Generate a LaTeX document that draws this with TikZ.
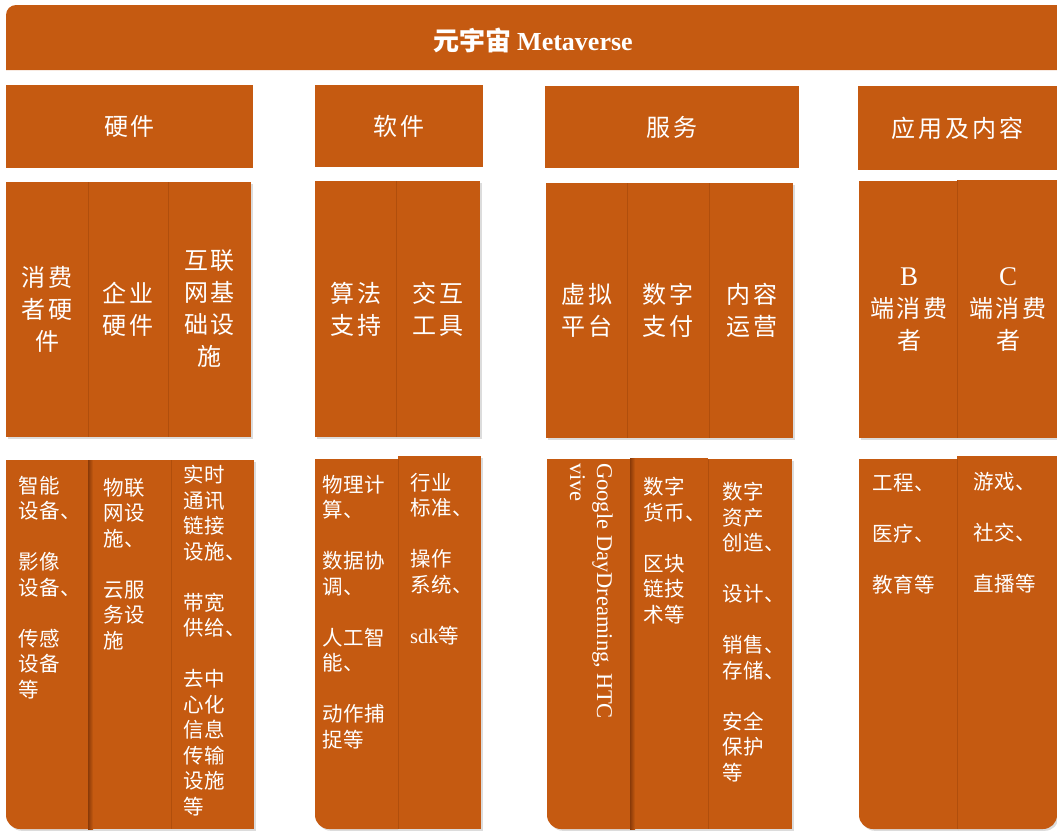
\documentclass[tikz,border=0pt]{standalone}
\usepackage{fontspec}
\setmainfont{Noto Sans CJK SC}
\newfontfamily\lat{Liberation Serif}
\newfontfamily\cjksp[LetterSpace=12]{Noto Sans CJK SC}
\newfontfamily\cjklow[LetterSpace=4]{Noto Sans CJK SC}
\usetikzlibrary{shadows}
\definecolor{org}{HTML}{C55A11}
\definecolor{orgline}{HTML}{B04E0C}
\definecolor{orgdark}{HTML}{8A3A08}
\begin{document}
\begin{tikzpicture}[x=1pt,y=-1pt,
  box/.style={fill=org, draw=none, inner sep=0pt, outer sep=0pt},
  shd/.style={drop shadow={shadow xshift=1.8pt, shadow yshift=-1.8pt, opacity=0.28}},
  sepline/.style={draw=orgline, line width=0.8pt},
  hdtext/.style={text=white, font=\cjksp\fontsize{24}{30}\selectfont},
  midtext/.style={text=white, align=center, inner sep=0pt, font=\cjksp\fontsize{24}{32}\selectfont},
  lowtext/.style={text=white, align=left, anchor=north west, inner sep=0pt, font=\cjklow\fontsize{20.5}{25.5}\selectfont},
  rottext/.style={text=white, align=left, anchor=north west, inner sep=0pt, rotate=-90, font=\lat\fontsize{22.5}{27}\selectfont},
]
\useasboundingbox (0,0) rectangle (1057,830);

% ---------- banner ----------
\fill[org] (1057,70) -- (6,70) -- (6,15) .. controls (6,9.48) and (10.48,5) .. (16,5) -- (1057,5) -- cycle;
\node[text=white, font=\bfseries\fontsize{26}{30}\selectfont] (meta) at (533,40) {元宇宙 {\lat\bfseries Metaverse}};

% ---------- headers ----------
\node[box, hdtext, minimum width=247, minimum height=83] (hw) at (129.5,126.5) {硬件};
\node[box, hdtext, minimum width=168, minimum height=82] (sw) at (399,126) {软件};
\node[box, hdtext, minimum width=254, minimum height=82] (sv) at (672,127) {服务};
\node[box, hdtext, minimum width=199, minimum height=84] (ap) at (957.5,128) {应用及内容};

% ---------- second row ----------
\fill[org, shd] (6,182) rectangle (251,437);
\draw[sepline] (88,182) -- (88,437);
\draw[sepline] (168,182) -- (168,437);
\fill[org, shd] (315,181) rectangle (480,437);
\draw[sepline] (396,181) -- (396,437);
\fill[org, shd] (546,183) rectangle (793,438);
\draw[sepline] (627.5,183) -- (627.5,438);
\draw[sepline] (709,183) -- (709,438);
\fill[org, shd] (859,181) rectangle (957,438);
\fill[org, shd] (957,180) rectangle (1057,438);
\draw[sepline] (957,180) -- (957,438);

\node[midtext] (h1) at (47,309) {消费\\者硬\\件};
\node[midtext] (h2) at (128,309) {企业\\硬件};
\node[midtext] (h3) at (209.5,309) {互联\\网基\\础设\\施};
\node[midtext] (s1) at (356,309) {算法\\支持};
\node[midtext] (s2) at (438,309) {交互\\工具};
\node[midtext] (v1) at (587,310) {虚拟\\平台};
\node[midtext] (v2) at (668,310) {数字\\支付};
\node[midtext] (v3) at (752,310) {内容\\运营};
\node[midtext] (a1) at (909,310) {{\lat\fontsize{27}{32}\selectfont B}\\端消费\\者};
\node[midtext] (a2) at (1008,310) {{\lat\fontsize{27}{32}\selectfont C}\\端消费\\者};

% ---------- third row ----------
% hardware
\fill[org, shd] (88,460) -- (6,460) -- (6,815) .. controls (6,822.7) and (12.3,829) .. (20,829) -- (88,829) -- cycle;
\fill[org, shd] (88,460) rectangle (171,829);
\fill[org, shd] (171,460) rectangle (254,829);
\fill[left color=orgdark, right color=org] (88,460) rectangle (93,829);
\draw[sepline] (171,460) -- (171,829);
% software
\fill[org, shd] (398,459) -- (315,459) -- (315,815) .. controls (315,822.7) and (321.3,829) .. (329,829) -- (398,829) -- cycle;
\fill[org, shd] (398,456) rectangle (481,829);
\draw[sepline] (398,459) -- (398,829);
% services
\fill[org, shd] (630,459) -- (547,459) -- (547,815) .. controls (547,822.7) and (553.3,829) .. (561,829) -- (630,829) -- cycle;
\fill[org, shd] (630,458) rectangle (708,829);
\fill[org, shd] (708,459) rectangle (792,829);
\fill[left color=orgdark, right color=org] (630,458) rectangle (635,829);
\draw[sepline] (708,459) -- (708,829);
% applications
\fill[org, shd] (957,459) -- (859,459) -- (859,815) .. controls (859,822.7) and (865.3,829) .. (873,829) -- (957,829) -- cycle;
\fill[org, shd] (957,456) -- (1057,456) -- (1057,815) .. controls (1057,822.7) and (1050.7,829) .. (1043,829) -- (957,829) -- cycle;
\draw[sepline] (957,459) -- (957,829);

\node[lowtext] (t1) at (18,476) {智能\\设备、\\[25.5pt]影像\\设备、\\[25.5pt]传感\\设备\\等};
\node[lowtext] (t2) at (103,478) {物联\\网设\\施、\\[25.5pt]云服\\务设\\施};
\node[lowtext] (t3) at (183,465) {实时\\通讯\\链接\\设施、\\[25.5pt]带宽\\供给、\\[25.5pt]去中\\心化\\信息\\传输\\设施\\等};
\node[lowtext] (t4) at (322,475) {物理计\\算、\\[25.5pt]数据协\\调、\\[25.5pt]人工智\\能、\\[25.5pt]动作捕\\捉等};
\node[lowtext] (t5) at (410,473) {行业\\标准、\\[25.5pt]操作\\系统、\\[25.5pt]{\lat sdk}等};
\node[rottext] (t6) at (613,463) {Google DayDreaming, HTC\\vive};
\node[lowtext] (t7) at (643,477) {数字\\货币、\\[25.5pt]区块\\链技\\术等};
\node[lowtext] (t8) at (722,482) {数字\\资产\\创造、\\[25.5pt]设计、\\[25.5pt]销售、\\存储、\\[25.5pt]安全\\保护\\等};
\node[lowtext] (t9) at (872,473) {工程、\\[25.5pt]医疗、\\[25.5pt]教育等};
\node[lowtext] (t10) at (973,472) {游戏、\\[25.5pt]社交、\\[25.5pt]直播等};
\end{tikzpicture}
\end{document}
